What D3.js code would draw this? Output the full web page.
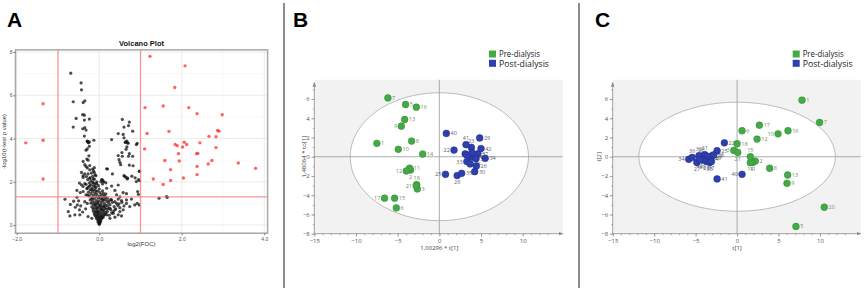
<!DOCTYPE html>
<html><head><meta charset="utf-8">
<script src="https://cdn.jsdelivr.net/npm/d3@7"></script>
<style>body{margin:0;background:#fff}svg{display:block}</style>
</head><body>
<svg id="chart" width="865" height="290"></svg>
<script>
// ---------------- DATA ----------------
// Panel A: volcano plot  [log2(FOC), -log10(p)]
const volcanoXTicks = [-2, 0, 2, 4];
const volcanoYTicks = [0, 2, 4, 6, 8];
const volcanoUp = [[1.23,7.8],[2.08,7.36],[1.83,6.36],[1.11,5.43],[1.55,5.5],[2.17,5.43],[2.37,5.15],[2.98,5.1],
 [1.16,4.23],[1.69,4.33],[2.87,4.37],[2.9,4.34],[2.66,4.1],[2.83,4.08],[2.06,3.83],[1.84,3.72],[1.89,3.67],
 [2.12,3.72],[2.02,3.61],[2.44,3.8],[1.10,3.52],[2.83,3.58],[1.92,3.3],[2.36,3.3],[2.39,3.31],[1.59,2.98],
 [1.94,2.96],[2.73,2.98],[2.64,2.82],[3.37,2.87],[3.79,2.62],[2.37,2.71],[1.73,2.56],[2.37,2.33],[1.31,2.13],
 [2.04,2.17],[1.73,2.06],[1.55,1.87]];
const volcanoDown = [[-1.36,5.61],[-1.36,3.92],[-1.78,3.8],[-1.36,2.13]];
const volcanoNS = [
 [-0.69,7.02],[-0.44,6.57],[-0.43,6.25],[-0.63,5.70],[-0.39,5.66],[-0.35,5.74],[-0.40,5.10],[-0.36,5.08],
 [-0.56,4.93],[-0.36,4.85],[-0.24,4.90],[-0.63,4.53],[-0.40,4.45],[-0.35,4.50],[-0.32,4.39],[-0.36,4.11],
 [-0.29,3.88],[-0.13,3.92],[-0.24,3.64],[-0.27,3.83],
 [0.56,4.88],[0.73,4.76],[0.71,4.60],[0.60,4.53],[0.81,4.34],[0.46,4.23],[0.58,4.19],[0.60,4.03],[0.30,3.95],
 [0.67,3.88],[0.69,3.80],[0.92,3.77],[0.63,3.82],[0.70,3.78],[0.90,3.72],[0.64,3.84],[0.67,3.61],
 [-0.29,3.87],[-0.26,3.80],[-0.24,3.84],[-0.32,3.46],[-0.29,3.52],[-0.25,3.20],[-0.30,3.05],[-0.27,3.00],
 [-0.39,2.94],[-0.35,2.79],[-0.32,2.71],[-0.29,2.64],[-0.23,2.75],[-0.16,2.59],
 [0.46,3.21],[0.48,3.02],[0.50,2.90],[0.52,2.79],[0.55,3.35],[0.65,3.50],[0.71,3.18],[0.73,2.77],[0.81,3.18],
 [0.73,3.30],[0.56,3.18],[0.82,2.74],[0.18,2.60],[0.98,2.48],[0.20,2.59],[0.32,2.36],
 [0.60,2.28],[0.65,2.20],[0.68,2.13],[0.79,2.26],[0.87,2.18],[0.95,2.10],[0.97,2.49],[0.62,2.25],[0.69,2.17],
 [0.90,2.01],[0.98,2.05],[0.07,2.10],[0.11,2.00],[0.06,2.09],[0.09,2.04],
 [-0.43,2.43],[-0.39,2.28],[-0.39,2.20],[-0.35,2.36],[-0.31,2.24],[-0.27,2.36],[-0.23,2.17],[-0.12,2.43],
 [-0.08,2.28],[-0.14,2.13],
 [-0.48,1.94],[-0.43,1.86],[-0.39,1.78],[-0.35,1.91],[-0.29,1.71],[-0.23,1.81],[-0.18,1.63],[-0.14,1.94],
 [-0.10,1.78],[-0.06,1.91],[-0.54,1.60],[-0.46,1.50],[-0.39,1.55],[-0.32,1.40],
 [0.04,2.00],[0.08,1.90],[0.16,1.95],[0.18,1.70],[0.30,1.80],[0.38,1.60],[0.46,1.85],
 [0.42,1.40],[0.50,1.30],[0.58,1.50],[0.66,1.45],[0.93,1.55],[0.95,1.42],
 [-0.83,1.19],[-0.54,1.28],[-0.50,1.12],[-0.53,0.93],[-0.45,0.88],[-0.35,1.08],[-0.29,1.00],[-0.48,0.70],
 [-0.75,0.62],[-0.71,0.42],[-0.59,0.47],[-0.47,0.47],[-0.27,0.39],[-0.18,0.31],[-0.62,1.10],[-0.70,0.95],
 [-0.58,0.82],[-0.40,0.60],[-0.33,0.75],
 [0.30,1.16],[0.38,1.08],[0.46,1.20],[0.48,0.98],[0.54,1.13],[0.60,0.88],[0.66,1.00],[0.74,0.85],[0.86,0.93],
 [0.92,1.00],[0.97,0.93],[0.66,1.16],[0.78,1.20],
 [0.26,0.78],[0.38,0.70],[0.50,0.62],[0.58,0.70],[0.34,0.54],[0.46,0.47],[0.54,0.42],[0.18,0.47],[0.26,0.31],
 [0.38,0.36],[1.45,1.24],[1.63,1.31],[1.65,1.28],
 [0,0.03],[0.01,0.06],[-0.01,0.09],[0.02,0.12],[-0.03,0.14],[0.03,0.17],[0,0.19],[-0.02,0.22],[0.04,0.24],
 [-0.05,0.27],[0.05,0.29],[0,0.31],[-0.07,0.33],[0.08,0.34],[0.02,0.36],[-0.03,0.38],[0.1,0.37],
 [-0.08,0.41],[0.06,0.42],[-0.1,0.45],[0.11,0.46],[0.0,0.44],[-0.04,0.48],[0.04,0.5],[0.14,0.49],[-0.12,0.52],
 [0.08,0.55],[-0.06,0.56],[0.16,0.57],[-0.1,0.6],[0.02,0.6],[0.12,0.62],[-0.14,0.64],[0.2,0.62],[-0.02,0.66],
 [0.07,0.67],[-0.08,0.7],[0.1,0.71],[0.18,0.73],[-0.15,0.74],[0.03,0.75],[-0.04,0.78],[0.14,0.78],[0.23,0.77],
 [-0.12,0.8],[0.06,0.82],[-0.18,0.84],[0.0,0.86],[0.1,0.87],[0.2,0.88],[-0.08,0.9],[0.16,0.92],[-0.14,0.94],
 [0.04,0.95],[0.26,0.94],[-0.03,0.98],[0.12,1.0],[-0.2,1.01],[0.22,1.03],[-0.1,1.04],[0.06,1.06],[-0.16,1.08],
 [0.18,1.1],[0.0,1.1],[-0.06,1.13],[0.1,1.14],[-0.22,1.16],[0.28,1.17],[0.14,1.19],[-0.12,1.2],[0.04,1.22],
 [-0.02,1.25],[0.2,1.24],[-0.17,1.27],[0.08,1.28],[-0.08,1.3],[0.0,1.33],[-0.24,1.34],[0.12,1.36],[-0.14,1.38],
 [0.05,1.4],[-0.06,1.42],[-0.2,1.45],[0.16,1.44],[-0.1,1.48],[0.02,1.5],[-0.26,1.52],[-0.16,1.55],[-0.04,1.56],
 [0.08,1.58],[-0.22,1.62],[-0.12,1.64],[0.0,1.66],[-0.3,1.68],[-0.18,1.7],[-0.08,1.73],[-0.26,1.76],[-0.14,1.8],
 [-0.02,1.82],[-0.2,1.86],[-0.32,1.88],[-0.1,1.9],[-0.24,1.95],[-0.16,1.98],[-0.06,2.0],[-0.2,2.05],[-0.28,2.1],
 [-0.12,2.12],[-0.22,2.18],[-0.16,2.25],[-0.1,2.32],[-0.19,2.4],[-0.14,2.5],[-0.23,2.55],[-0.12,2.65],
 [0.24,0.45],[0.3,0.55],[0.34,0.62],[0.28,0.7],[0.4,0.75],[0.36,0.85],[0.45,0.9],[0.5,0.8],[0.42,1.0],
 [0.32,1.05],[0.55,1.05],[-0.05,0.62],[0.05,0.72],[-0.1,0.95],[0.08,1.18],[-0.04,1.02],[0.15,1.3],[-0.18,1.2],
 [0.02,0.9],[-0.06,0.8],[0.12,0.85],[-0.02,0.55],[0.06,0.38],[-0.08,1.58],[0.1,1.46],[-0.28,1.38],[0.24,1.12]
];

// Panels B and C: PCA score plots, rows = [sample id, t1, t2]
const pcaTicksX = [-15, -10, -5, 0, 5, 10];
const pcaTicksY = [-8, -6, -4, -2, 0, 2, 4, 6];
const seriesNames = ["Pre-dialysis", "Post-dialysis"];
const preB = [[1,-7.49,1.39],[2,-3.45,-1.38],[3,-2.64,-3.35],[5,-4.05,5.43],[6,-5.16,-5.32],[7,-6.17,6.11],
 [8,-3.33,1.63],[9,-4.56,3.18],[10,-4.92,0.77],[11,-3.57,-1.2],[12,-3.96,-1.48],[13,-4.16,3.87],[14,-2.0,0.28],
 [15,-5.37,-4.31],[16,-2.76,5.15],[17,-6.57,-4.31],[18,-2.72,-2.9],[21,-2.78,-3.02]];
const postB = [[22,1.76,0.69],[23,3.84,0.97],[24,3.9,-0.05],[25,0.74,-1.83],[26,4.44,-0.96],[27,3.1,0.3],
 [28,2.14,-1.96],[29,4.84,1.95],[30,4.24,-1.55],[31,3.3,0.15],[32,4.2,0.2],[33,3.3,-0.5],[34,5.5,-0.17],
 [35,2.68,-1.72],[36,3.7,-0.75],[37,4.6,0.3],[38,3.9,0.45],[39,4.4,-0.2],[40,0.84,2.42],[41,3.2,1.25],[42,5.0,0.85]];
const preC = [[1,7.83,5.88],[2,2.2,-0.45],[3,-0.4,0.66],[5,7.1,-7.25],[6,0.6,2.7],[7,9.95,3.56],[8,3.93,-1.2],
 [9,6.02,-2.76],[10,4.94,2.38],[11,1.9,-0.6],[12,2.41,1.83],[13,6.1,-1.9],[14,1.6,-0.62],[15,1.6,0.0],
 [16,6.14,2.7],[17,2.69,3.28],[18,0.0,1.35],[20,10.52,-5.25],[21,0.08,0.45]];
const postC = [[22,-1.53,1.45],[23,-3.0,0.1],[24,-3.5,-0.2],[25,-2.41,0.62],[26,-4.3,0.05],[27,-4.85,-0.6],
 [28,-3.7,-0.5],[29,-3.2,-0.1],[30,-4.6,0.1],[31,-3.9,0.2],[32,-3.6,0.05],[33,-2.85,0.18],[34,-5.83,-0.27],
 [35,-3.3,-0.6],[36,-5.42,-0.07],[37,-3.1,-0.5],[38,-3.95,-0.3],[39,-4.2,-0.35],[40,0.6,-1.83],[41,-2.41,-2.31],
 [42,-4.5,-0.3]];

// ---------------- LAYOUT / STYLE ----------------
const labelSideB = {22:'l',25:'l',12:'l',17:'l',21:'l',9:'l',33:'l',28:'b',41:'a',2:'b',18:'a',23:'a'};
const labelSideC = {10:'l',40:'l',34:'l',36:'a',27:'b',30:'a',26:'a',38:'a',31:'a',39:'b',28:'b',37:'b',35:'b',
  42:'b',15:'a',21:'b',14:'b',11:'b',3:'l'};
const GREEN = '#43aa47', GREEN_D = '#2e8a33', BLUE = '#2f3fae', BLUE_D = '#1f2c88';

const svg = d3.select('#chart');
svg.append('rect').attr('width',865).attr('height',290).attr('fill','#fff');
const defs = svg.append('defs');
defs.append('marker').attr('id','arr').attr('viewBox','0 0 6 6').attr('refX',5).attr('refY',3)
  .attr('markerWidth',6).attr('markerHeight',6).attr('orient','auto')
  .append('path').attr('d','M0,0.8 L6,3 L0,5.2 Z').attr('fill','#8a8a8a');

// dividers
[284, 579].forEach(x => svg.append('line').attr('x1',x).attr('x2',x).attr('y1',3).attr('y2',288)
  .attr('stroke','#8c8c8c').attr('stroke-width',2));

// panel letters
[['A',7],['B',293],['C',595]].forEach(([t,x]) => svg.append('text').attr('x',x).attr('y',27)
  .attr('font-family','Liberation Sans, Arial, sans-serif').attr('font-weight','bold').attr('font-size',21)
  .attr('fill','#000').text(t));

// ---------------- PANEL A ----------------
(function(){
  const x = d3.scaleLinear().domain([-2,4]).range([16.7,264.3]);
  const y = d3.scaleLinear().domain([0,8]).range([225,52]);
  const fx0 = x(-2.03), fx1 = x(4.08), fy0 = y(-0.38), fy1 = y(8.1);
  const g = svg.append('g');
  g.append('rect').attr('x',fx0).attr('y',fy1).attr('width',fx1-fx0).attr('height',fy0-fy1).attr('fill','#fff');
  // grid
  [-1,1,3].forEach(v => g.append('line').attr('x1',x(v)).attr('x2',x(v)).attr('y1',fy1).attr('y2',fy0).attr('stroke','#f1f1f1').attr('stroke-width',0.5));
  volcanoXTicks.forEach(v => g.append('line').attr('x1',x(v)).attr('x2',x(v)).attr('y1',fy1).attr('y2',fy0).attr('stroke','#e4e4e4').attr('stroke-width',0.7));
  [1,3,5,7].forEach(v => g.append('line').attr('y1',y(v)).attr('y2',y(v)).attr('x1',fx0).attr('x2',fx1).attr('stroke','#f1f1f1').attr('stroke-width',0.5));
  volcanoYTicks.forEach(v => g.append('line').attr('y1',y(v)).attr('y2',y(v)).attr('x1',fx0).attr('x2',fx1).attr('stroke','#e4e4e4').attr('stroke-width',0.7));
  // points
  g.selectAll('.ns').data(volcanoNS).join('circle').attr('cx',d=>x(d[0])).attr('cy',d=>y(d[1])).attr('r',1.6)
    .attr('fill','#111').attr('fill-opacity',0.75);
  g.selectAll('.sig').data(volcanoUp.concat(volcanoDown)).join('circle').attr('cx',d=>x(d[0])).attr('cy',d=>y(d[1])).attr('r',1.7)
    .attr('fill','#ff3030').attr('fill-opacity',0.75);
  // threshold lines
  [-1,1].forEach(v => g.append('line').attr('x1',x(v)).attr('x2',x(v)).attr('y1',fy1).attr('y2',fy0).attr('stroke','#ff7b7b').attr('stroke-opacity',0.8).attr('stroke-width',1.3));
  g.append('line').attr('y1',y(-Math.log10(0.05))).attr('y2',y(-Math.log10(0.05))).attr('x1',fx0).attr('x2',fx1)
    .attr('stroke','#ff7b7b').attr('stroke-opacity',0.8).attr('stroke-width',1.3);
  g.append('rect').attr('x',fx0).attr('y',fy1).attr('width',fx1-fx0).attr('height',fy0-fy1).attr('fill','none')
    .attr('stroke','#a8a8a8').attr('stroke-width',1.5);
  // axes
  const ax = g.append('g').attr('transform',`translate(0,${fy0})`).call(d3.axisBottom(x).tickValues(volcanoXTicks).tickSize(2).tickSizeOuter(0));
  const ay = g.append('g').attr('transform',`translate(${fx0},0)`).call(d3.axisLeft(y).tickValues(volcanoYTicks).tickSize(2).tickSizeOuter(0));
  [ax,ay].forEach(a => { a.select('.domain').remove(); a.selectAll('line').attr('stroke','#777');
    a.selectAll('text').attr('font-size',5).attr('fill','#555').attr('font-family','Liberation Sans, Arial, sans-serif'); });
  ay.selectAll('text').attr('x',-3);
  ax.selectAll('text').attr('y',4);
  g.append('text').attr('x',(fx0+fx1)/2).attr('y',46).attr('text-anchor','middle').attr('font-size',7.5).attr('font-weight','bold')
    .attr('font-family','Liberation Sans, Arial, sans-serif').attr('fill','#111').text('Volcano Plot');
  g.append('text').attr('x',(fx0+fx1)/2).attr('y',246).attr('text-anchor','middle').attr('font-size',6)
    .attr('font-family','Liberation Sans, Arial, sans-serif').attr('fill','#333').text('log2(FOC)');
  g.append('text').attr('transform',`translate(6,${(fy0+fy1)/2}) rotate(-90)`).attr('text-anchor','middle').attr('font-size',6)
    .attr('font-family','Liberation Sans, Arial, sans-serif').attr('fill','#333').text('-log10(t-test p value)');
})();

// ---------------- PANELS B, C ----------------
function pcaPanel(o){
  const x = d3.scaleLinear().domain([-15,10]).range(o.xRange);
  const y = d3.scaleLinear().domain([-8,6]).range([233.7,99]);
  const g = svg.append('g');
  const x0 = x(-15), x1 = x(o.xMax), y0 = y(-8), y1 = y(8);
  g.append('rect').attr('x',x0).attr('y',y1).attr('width',x1-x0).attr('height',y0-y1).attr('fill','#f2f2f2');
  g.append('ellipse').attr('cx',x(0)).attr('cy',y(0)).attr('rx',x(o.ell[0])-x(0)).attr('ry',y(0)-y(o.ell[1]))
    .attr('fill','#fff').attr('stroke','#b4b4b4').attr('stroke-width',0.9);
  g.append('line').attr('x1',x(0)).attr('x2',x(0)).attr('y1',y1).attr('y2',y0).attr('stroke','#a2a2a2').attr('stroke-width',0.9);
  g.append('line').attr('x1',x0).attr('x2',x1).attr('y1',y(0)).attr('y2',y(0)).attr('stroke','#a2a2a2').attr('stroke-width',0.9);
  // axes
  g.append('line').attr('x1',x0).attr('x2',x1).attr('y1',y0).attr('y2',y0).attr('stroke','#8a8a8a').attr('stroke-width',0.8).attr('marker-end','url(#arr)');
  g.append('line').attr('x1',x0).attr('x2',x0).attr('y1',y0).attr('y2',y(7.7)).attr('stroke','#8a8a8a').attr('stroke-width',0.8).attr('marker-end','url(#arr)');
  const minorX = d3.range(-15,14,1), minorY = d3.range(-8,8,1);
  const mx = g.append('g').attr('transform',`translate(0,${y0})`).call(d3.axisBottom(x).tickValues(minorX).tickSize(1.5).tickFormat(''));
  const my = g.append('g').attr('transform',`translate(${x0},0)`).call(d3.axisLeft(y).tickValues(minorY).tickSize(1.5).tickFormat(''));
  const ax = g.append('g').attr('transform',`translate(0,${y0})`).call(d3.axisBottom(x).tickValues(pcaTicksX).tickSize(3).tickFormat(d3.format('d')));
  const ay = g.append('g').attr('transform',`translate(${x0},0)`).call(d3.axisLeft(y).tickValues(pcaTicksY).tickSize(3).tickFormat(d3.format('d')));
  [mx,my,ax,ay].forEach(a => { a.select('.domain').remove(); a.selectAll('line').attr('stroke','#8a8a8a').attr('stroke-width',0.7);
    a.selectAll('text').attr('font-size',6).attr('fill','#555').attr('font-family','Open Sans, sans-serif'); });
  ax.selectAll('text').attr('y',5);
  ay.selectAll('text').attr('x',-4.5);
  g.append('text').attr('x',x(0)).attr('y',250).attr('text-anchor','middle').attr('font-size',6)
    .attr('font-family','Open Sans, sans-serif').attr('fill','#444').text(o.xLabel);
  g.append('text').attr('transform',`translate(${o.yLabelX},${y(0)}) rotate(-90)`).attr('text-anchor','middle').attr('font-size',6)
    .attr('font-family','Open Sans, sans-serif').attr('fill','#444').text(o.yLabel);
  // labels (beneath points)
  const r = 3.4;
  const all = o.pre.map(d=>({id:d[0],v:[d[1],d[2]],s:0})).concat(o.post.map(d=>({id:d[0],v:[d[1],d[2]],s:1})));
  const lab = g.append('g');
  all.forEach(d => {
    const side = o.sides[d.id] || 'r';
    const px = x(d.v[0]), py = y(d.v[1]);
    let tx = px + r + 0.8, ty = py + 2, anchor = 'start';
    if (side==='l') { tx = px - r - 0.8; anchor = 'end'; }
    if (side==='a') { tx = px; ty = py - r - 1; anchor = 'middle'; }
    if (side==='b') { tx = px; ty = py + r + 5.2; anchor = 'middle'; }
    lab.append('text').attr('x',tx).attr('y',ty).attr('text-anchor',anchor).attr('font-size',5.5)
      .attr('font-family','Open Sans, sans-serif').attr('fill', d.s ? '#5d5f72' : '#6c8d6c').text(d.id);
  });
  g.selectAll('.pt').data(all).join('circle').attr('cx',d=>x(d.v[0])).attr('cy',d=>y(d.v[1])).attr('r',r)
    .attr('fill',d=>d.s?BLUE:GREEN).attr('stroke',d=>d.s?BLUE_D:GREEN_D).attr('stroke-width',0.5);
  // legend
  seriesNames.forEach((n,i) => {
    g.append('rect').attr('x',o.legX).attr('y',50.5+i*9.3).attr('width',7).attr('height',7).attr('fill',i?BLUE:GREEN);
    g.append('text').attr('x',o.legX+10).attr('y',57.3+i*9.3).attr('font-size',9.5).attr('font-family','Open Sans, sans-serif')
      .attr('fill','#222').attr('textLength', i?50:41).attr('lengthAdjust','spacingAndGlyphs').text(n);
  });
}
pcaPanel({xRange:[314.3,522.7], xMax:14.8, ell:[10.7,6.65], pre:preB, post:postB, sides:labelSideB,
  xLabel:'1,00296 * t[1]', yLabel:'1,48064 * to[1]', yLabelX:306, legX:489});
pcaPanel({xRange:[612.7,820], xMax:14.9, ell:[11.85,5.67], pre:preC, post:postC, sides:labelSideC,
  xLabel:'t[1]', yLabel:'t[2]', yLabelX:601, legX:792.7});
</script>
</body></html>
